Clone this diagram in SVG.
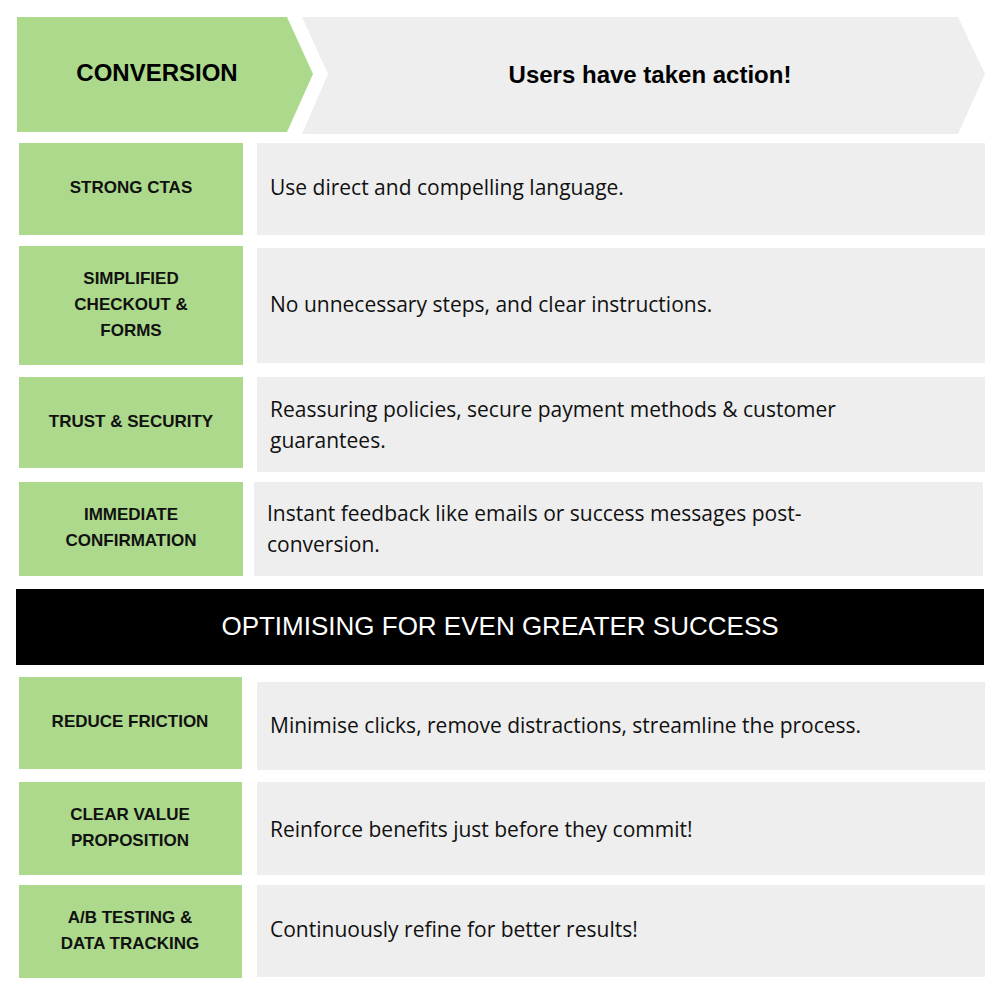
<svg xmlns="http://www.w3.org/2000/svg" width="1000" height="1000" viewBox="0 0 1000 1000">
<style>
.g{fill:#acd98b}.y{fill:#eeeeee}
.l{font-family:"Liberation Sans",Arial,sans-serif;font-weight:bold;font-size:17px;fill:#111;text-anchor:middle}
.t{font-family:"Open Sans","Liberation Sans",sans-serif;font-size:21px;fill:#111}
</style>
<rect width="1000" height="1000" fill="#fff"/>
<g id="header">
<polygon class="g" points="17,17 287,17 313,74 287,132 17,132"/>
<text x="157" y="81" font-family="Liberation Sans,Arial,sans-serif" font-weight="900" font-size="24" fill="#000" text-anchor="middle">CONVERSION</text>
<polygon class="y" points="302,17 958,17 985,74 958,134 302,134 328,74"/>
<text x="650" y="83" font-family="Liberation Sans,Arial,sans-serif" font-weight="bold" font-size="24" fill="#000" text-anchor="middle">Users have taken action!</text>
</g>
<g id="row1"><rect class="g" x="19" y="143" width="224" height="92"/><rect class="y" x="257" y="143" width="728" height="92"/>
<text class="l" x="131" y="193">STRONG CTAS</text><text class="t" x="270" y="195">Use direct and compelling language.</text></g>
<g id="row2"><rect class="g" x="19" y="246" width="224" height="119"/><rect class="y" x="257" y="248" width="728" height="115"/>
<text class="l" x="131" y="284">SIMPLIFIED</text><text class="l" x="131" y="310">CHECKOUT &amp;</text><text class="l" x="131" y="336">FORMS</text>
<text class="t" x="270" y="312">No unnecessary steps, and clear instructions.</text></g>
<g id="row3"><rect class="g" x="19" y="377" width="224" height="91"/><rect class="y" x="257" y="377" width="728" height="95"/>
<text class="l" x="131" y="427">TRUST &amp; SECURITY</text>
<text class="t" x="270" y="417">Reassuring policies, secure payment methods &amp; customer</text><text class="t" x="270" y="448">guarantees.</text></g>
<g id="row4"><rect class="g" x="19" y="482" width="224" height="94"/><rect class="y" x="254" y="482" width="729" height="94"/>
<text class="l" x="131" y="520">IMMEDIATE</text><text class="l" x="131" y="546">CONFIRMATION</text>
<text class="t" x="267" y="521">Instant feedback like emails or success messages post-</text><text class="t" x="267" y="552">conversion.</text></g>
<g id="banner"><rect x="16" y="589" width="968" height="76" fill="#000"/>
<text x="500" y="635" font-family="Liberation Sans,Arial,sans-serif" font-size="26" fill="#fff" text-anchor="middle">OPTIMISING FOR EVEN GREATER SUCCESS</text></g>
<g id="row5"><rect class="g" x="19" y="677" width="223" height="92"/><rect class="y" x="257" y="682" width="728" height="88"/>
<text class="l" x="130" y="727">REDUCE FRICTION</text><text class="t" x="270" y="733">Minimise clicks, remove distractions, streamline the process.</text></g>
<g id="row6"><rect class="g" x="19" y="782" width="223" height="93"/><rect class="y" x="257" y="782" width="728" height="93"/>
<text class="l" x="130" y="820">CLEAR VALUE</text><text class="l" x="130" y="846">PROPOSITION</text>
<text class="t" x="270" y="837">Reinforce benefits just before they commit!</text></g>
<g id="row7"><rect class="g" x="19" y="885" width="223" height="93"/><rect class="y" x="257" y="885" width="728" height="92"/>
<text class="l" x="130" y="923">A/B TESTING &amp;</text><text class="l" x="130" y="949">DATA TRACKING</text>
<text class="t" x="270" y="937">Continuously refine for better results!</text></g>
<g id="connectors"/>
</svg>
